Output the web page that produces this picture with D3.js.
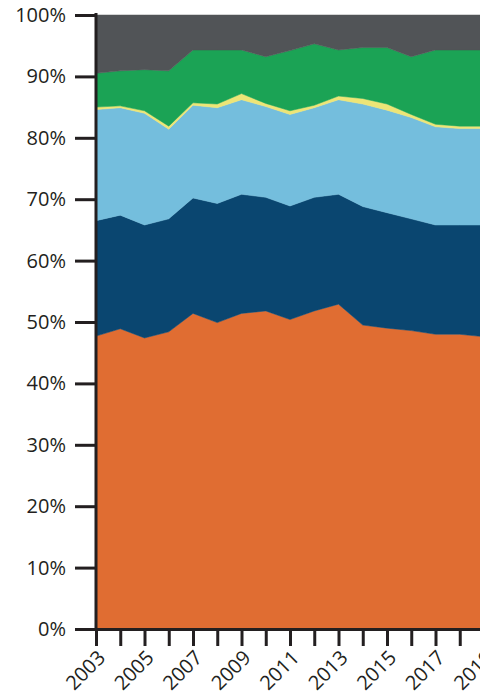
<!DOCTYPE html>
<html>
<head>
<meta charset="utf-8">
<script src="https://cdn.jsdelivr.net/npm/d3@7"></script>
<style>
  html, body { margin: 0; padding: 0; background: #ffffff; }
  svg { display: block; }
  .axis text { font-family: "Open Sans", sans-serif; font-size: 20px; fill: #231f20; }
  .axis path, .axis line { stroke: #231f20; stroke-width: 3; }
</style>
</head>
<body>
<svg id="chart" width="480" height="695"></svg>
<script>
// ---- Data (percent share per year, stacked bottom to top) ----
const years = [2003, 2004, 2005, 2006, 2007, 2008, 2009, 2010, 2011, 2012, 2013, 2014, 2015, 2016, 2017, 2018, 2019];
const seriesKeys = ["orange", "darkBlue", "lightBlue", "yellow", "green", "gray"];
const orange    = [47.7, 48.9, 47.4, 48.4, 51.4, 49.9, 51.4, 51.8, 50.4, 51.8, 52.9, 49.5, 49.0, 48.6, 48.0, 48.0, 47.6];
const darkBlue  = [18.8, 18.5, 18.4, 18.4, 18.8, 19.4, 19.4, 18.5, 18.5, 18.5, 17.9, 19.3, 18.8, 18.2, 17.8, 17.8, 18.2];
const lightBlue = [18.1, 17.5, 18.2, 14.6, 15.1, 15.6, 15.4, 14.8, 14.9, 14.6, 15.4, 16.7, 16.7, 16.5, 16.0, 15.7, 15.7];
const yellow    = [0.4, 0.3, 0.4, 0.5, 0.4, 0.6, 1.0, 0.5, 0.6, 0.4, 0.6, 0.9, 1.0, 0.5, 0.4, 0.4, 0.4];
const green     = [5.5, 5.7, 6.7, 9.0, 8.6, 8.8, 7.1, 7.6, 9.8, 10.0, 7.5, 8.3, 9.2, 9.4, 12.1, 12.4, 12.4];
const gray      = [9.5, 9.1, 8.9, 9.1, 5.7, 5.7, 5.7, 6.8, 5.8, 4.7, 5.7, 5.3, 5.3, 6.8, 5.7, 5.7, 5.7];
const yTicks = [0, 10, 20, 30, 40, 50, 60, 70, 80, 90, 100];
const xLabelYears = [2003, 2005, 2007, 2009, 2011, 2013, 2015, 2017, 2019];

const colors = {
  orange: "#e06d32",
  darkBlue: "#0a4670",
  lightBlue: "#74bedd",
  yellow: "#ede577",
  green: "#1ba355",
  gray: "#515457"
};

// Build table for the stack
const seriesValues = { orange, darkBlue, lightBlue, yellow, green, gray };
const table = years.map((yr, i) => {
  const row = { year: yr };
  seriesKeys.forEach(k => { row[k] = seriesValues[k][i]; });
  return row;
});

const svg = d3.select("#chart");
const x = d3.scaleLinear().domain([2003, 2019]).range([96, 484]);
const y = d3.scaleLinear().domain([0, 100]).range([629, 15]);

const stack = d3.stack().keys(seriesKeys).offset(d3.stackOffsetExpand);
const layers = stack(table);

const area = d3.area()
  .x(d => x(d.data.year))
  .y0(d => y(d[0] * 100))
  .y1(d => y(d[1] * 100));

svg.append("g")
  .selectAll("path")
  .data(layers)
  .join("path")
  .attr("d", area)
  .attr("fill", d => colors[d.key])
  .attr("stroke", d => colors[d.key])
  .attr("stroke-width", 0.5);

// Y axis
const yAxis = d3.axisLeft(y)
  .tickValues(yTicks)
  .tickSize(21)
  .tickSizeOuter(0)
  .tickPadding(9)
  .tickFormat(d => d + "%");

svg.append("g")
  .attr("class", "axis")
  .attr("transform", "translate(96,0)")
  .call(yAxis)
  .call(g => g.select(".domain").attr("d", `M0,${y(100) - 2}V${y(0) + 1.5}`));

// X axis
const xAxis = d3.axisBottom(x)
  .tickValues(years)
  .tickSize(17)
  .tickSizeOuter(0)
  .tickFormat(d => xLabelYears.includes(d) ? String(d) : "");

svg.append("g")
  .attr("class", "axis")
  .attr("transform", "translate(0,629)")
  .call(xAxis)
  .call(g => g.selectAll(".tick text")
    .attr("text-anchor", "end")
    .attr("dy", null)
    .attr("y", null)
    .attr("transform", "translate(10,30) rotate(-45)"));
</script>
</body>
</html>
